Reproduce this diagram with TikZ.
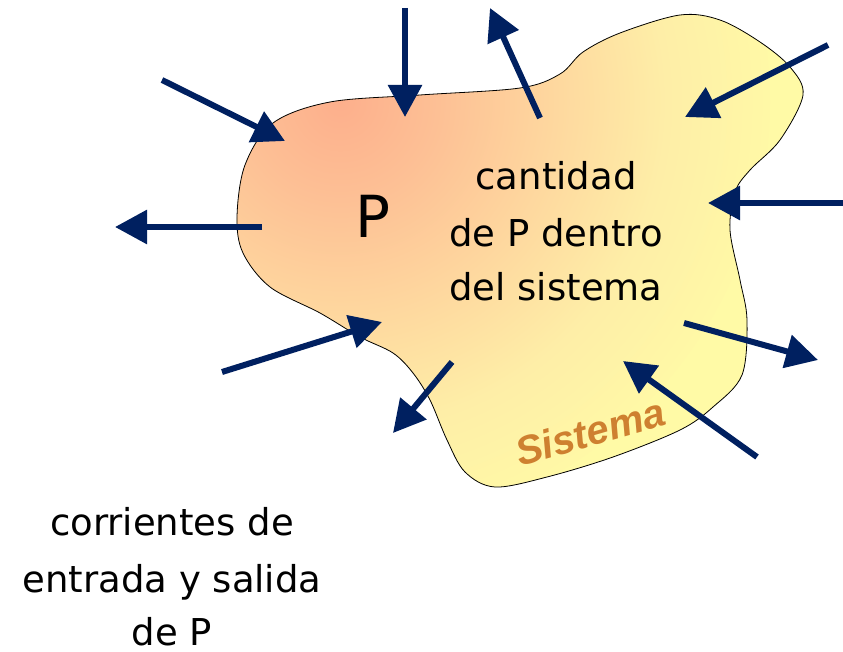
\documentclass[tikz,border=0pt]{standalone}
\usepackage{fontspec}
\setmainfont{DejaVu Sans}
\newfontfamily\sisfont{Liberation Sans}
\usetikzlibrary{arrows.meta}
\definecolor{navy}{RGB}{0,32,96}
\definecolor{shA}{RGB}{253,175,140}
\definecolor{shB}{RGB}{253,192,149}
\definecolor{shC}{RGB}{254,214,158}
\definecolor{shD}{RGB}{254,238,167}
\definecolor{shE}{RGB}{255,250,166}
\definecolor{sistc}{RGB}{206,128,48}
\pgfdeclareradialshading{blobshade}{\pgfpoint{0bp}{0bp}}{color(0bp)=(shA); color(5.7bp)=(shB); color(12bp)=(shC); color(19bp)=(shD); color(26bp)=(shE); color(50bp)=(shE)}
\tikzset{
  flow/.style={draw=navy, line width=6pt, -{Triangle[length=32pt,width=33pt]}},
  bigtxt/.style={font=\fontsize{37}{44}\selectfont, anchor=base, inner sep=0pt},
}
\def\blobpath{plot[smooth cycle, tension=0.55] coordinates {
(273,123) (330,102) (420,95) (520,88) (560,74) (583,52) (620,33) (680,15) (720,20)
(760,42) (790,67) (803,95) (780,140) (750,170) (735,192) (730,230) (740,280)
(747,320) (742,375) (713,407) (680,430) (613,457) (547,477) (495,487) (465,472)
(447,440) (430,400) (413,373) (393,353) (360,337) (320,313) (270,287) (243,253)
(237,217) (245,165)}}
\begin{document}
\begin{tikzpicture}[x=1pt,y=-1pt]
\useasboundingbox (0,0) rectangle (843,652);
\begin{scope}
  \clip \blobpath;
  \fill[shE] (0,0) rectangle (843,652);
  \shade[shading=blobshade] (340,102) circle (430);
\end{scope}
\draw[black, line width=0.8pt] \blobpath;

\node[inner sep=0pt, font=\fontsize{58}{60}\selectfont] (P) at (373,216) {P};
\node[bigtxt] (c1) at (556,190) {cantidad};
\node[bigtxt] (c2) at (556,247) {de P dentro};
\node[bigtxt] (c3) at (556,301) {del sistema};
\node[rotate=16, inner sep=0pt, text=sistc, font=\sisfont\bfseries\itshape\fontsize{40}{42}\selectfont] (sis) at (590,432) {Sistema};

\node[bigtxt] (b1) at (172,535) {corrientes de};
\node[bigtxt] (b2) at (172,592) {entrada y salida};
\node[bigtxt] (b3) at (172,645) {de P};

% arrow coordinates
\coordinate (a1s) at (162,80);  \coordinate (a1e) at (285,141);
\coordinate (a2s) at (405,8);   \coordinate (a2e) at (405,117);
\coordinate (a3s) at (540,118); \coordinate (a3e) at (490,8);
\coordinate (a4s) at (828,45);  \coordinate (a4e) at (685,117);
\coordinate (a5s) at (843,203); \coordinate (a5e) at (708,203);
\coordinate (a6s) at (262,227); \coordinate (a6e) at (115,227);
\coordinate (a7s) at (222,372); \coordinate (a7e) at (382,322);
\coordinate (a8s) at (452,362); \coordinate (a8e) at (393,433);
\coordinate (a9s) at (684,323); \coordinate (a9e) at (818,360);
\coordinate (a10s) at (757,457); \coordinate (a10e) at (623,361);

\foreach \i in {1,...,10} { \draw[flow] (a\i s) -- (a\i e); }
\end{tikzpicture}
\end{document}
